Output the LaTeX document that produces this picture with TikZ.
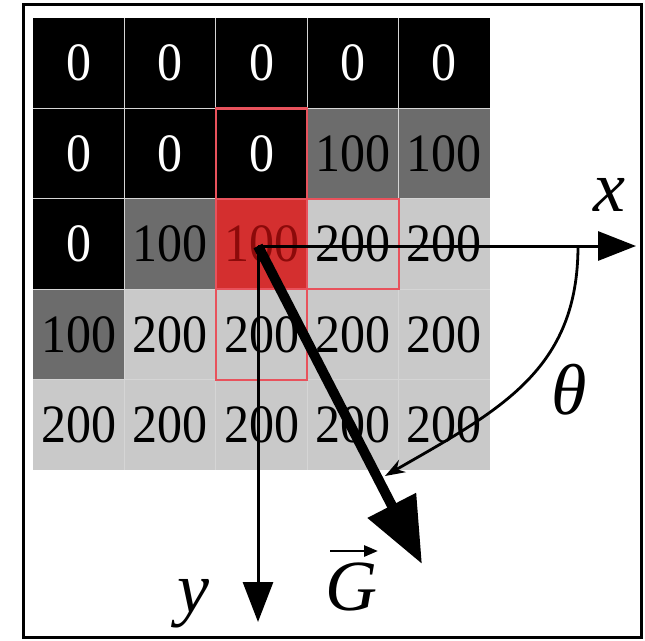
\documentclass[tikz,border=0pt]{standalone}
\usepackage{fontspec}
\setmainfont{Liberation Serif}
\usetikzlibrary{arrows.meta}
\definecolor{dgray}{HTML}{6C6C6C}
\definecolor{lgray}{HTML}{C9C9C9}
\definecolor{redfill}{HTML}{D42F2F}
\definecolor{redtext}{HTML}{8C0A0A}
\definecolor{redline}{HTML}{E8525C}
\definecolor{gridline}{HTML}{D5D5D5}
\begin{document}
\begin{tikzpicture}[x=1pt,y=-1pt,
  num/.style={font=\fontsize{50}{50}\selectfont, inner sep=0pt, yscale=1.08},
  lbl/.style={font=\fontsize{72}{72}\selectfont\itshape, inner sep=0pt},
  axis/.style={line width=3pt},
  hilite/.style={draw=redline, line width=2.2pt},
]
\useasboundingbox (0,0) rectangle (645,640);
\draw[line width=3pt] (23,4) rectangle (641,637);
% cells
\foreach \r/\c/\f in {0/0/black,0/1/black,0/2/black,0/3/black,0/4/black,
  1/0/black,1/1/black,1/2/black,1/3/dgray,1/4/dgray,
  2/0/black,2/1/dgray,2/2/redfill,2/3/lgray,2/4/lgray,
  3/0/dgray,3/1/lgray,3/2/lgray,3/3/lgray,3/4/lgray,
  4/0/lgray,4/1/lgray,4/2/lgray,4/3/lgray,4/4/lgray}
  \fill[\f] ({33+91.4*\c},{18+90.4*\r}) rectangle ++(91.4,90.4);
% grid lines
\foreach \i in {1,...,4} {
  \draw[gridline, line width=1.2pt] ({33+91.4*\i},18) -- ({33+91.4*\i},470);
  \draw[gridline, line width=1.2pt] (33,{18+90.4*\i}) -- (490,{18+90.4*\i});
}
% numbers
\begin{scope}
\clip (0,0) rectangle (484,640);
\foreach \r/\c/\t/\v in {0/0/white/0,0/1/white/0,0/2/white/0,0/3/white/0,0/4/white/0,
  1/0/white/0,1/1/white/0,1/2/white/0,1/3/black/100,1/4/black/100,
  2/0/white/0,2/1/black/100,2/2/redtext/100,2/3/black/200,2/4/black/200,
  3/0/black/100,3/1/black/200,3/2/black/200,3/3/black/200,3/4/black/200,
  4/0/black/200,4/1/black/200,4/2/black/200,4/3/black/200,4/4/black/200}
  \node[num, text=\t] (n\r\c) at ({78.7+91.4*\c},{63.2+90.4*\r}) {\v};
\end{scope}
% red outlines
\draw[hilite] ({33+91.4*2},{18+90.4*1}) rectangle ++(91.4,90.4);
\draw[hilite] ({33+91.4*2},{18+90.4*2}) rectangle ++(91.4,90.4);
\draw[hilite] ({33+91.4*3},{18+90.4*2}) rectangle ++(91.4,90.4);
\draw[hilite] ({33+91.4*2},{18+90.4*3}) rectangle ++(91.4,90.4);
% axes
\coordinate (O) at (258,246);
\coordinate (xe) at (636,246);
\coordinate (ye) at (258,622);
\coordinate (ge) at (422,564);
\coordinate (ts) at (578,246);
\coordinate (te) at (385,476);
\draw[axis,-{Triangle[length=38pt,width=29pt]}] (O) -- (xe);
\draw[axis,-{Triangle[length=40pt,width=30pt]}] (O) -- (ye);
\draw[line width=10pt,-{Triangle[length=66pt,width=52pt]}] (O) -- (ge);
\draw[line width=2.8pt,-{Stealth[length=20pt,width=14pt]}] (ts) .. controls (578,370) and (500,410) .. (te);
% labels
\node[lbl] (xl) at (609,195) {x};
\node[lbl] (yl) at (193,604) {y};
\node[lbl] (tl) at (569,390) {θ};
\node[lbl] (gl) at (351,587) {G};
\coordinate (va) at (330,551);
\coordinate (vb) at (378,551);
\draw[line width=2.8pt,-{Triangle[length=14pt,width=11pt]}] (va) -- (vb);
\end{tikzpicture}
\end{document}
